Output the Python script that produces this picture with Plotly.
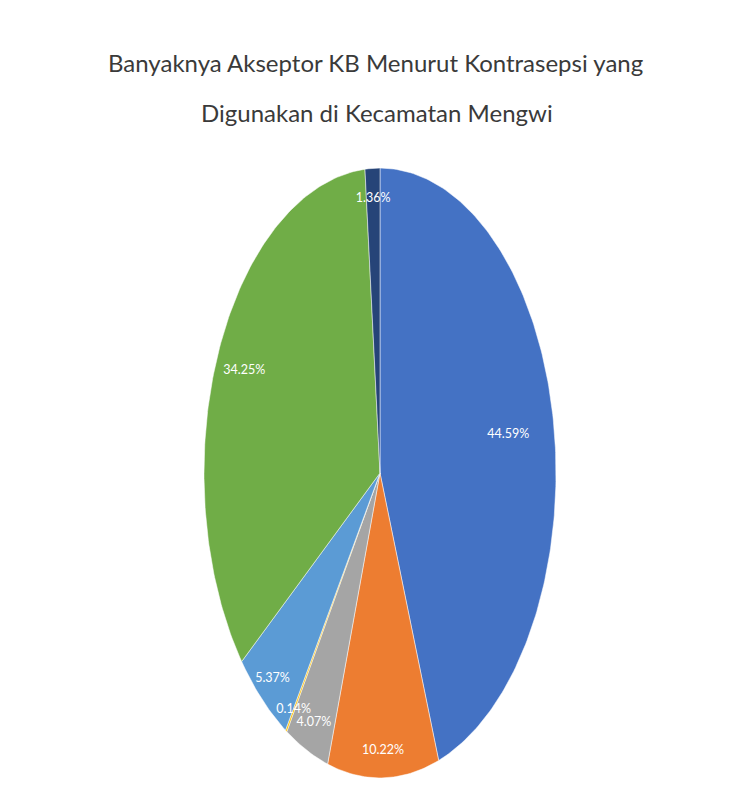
import numpy as np
import plotly.graph_objects as go

# ---- data ----
categories = ["Kontrasepsi 1", "Kontrasepsi 2", "Kontrasepsi 3", "Kontrasepsi 4",
              "Kontrasepsi 5", "Kontrasepsi 6", "Kontrasepsi 7"]
percentages = [44.59, 10.22, 4.07, 0.14, 5.37, 34.25, 1.36]
title_lines = ["Banyaknya Akseptor KB Menurut Kontrasepsi yang",
               "Digunakan di Kecamatan Mengwi"]

# ---- style ----
colors = ["#4472C4", "#ED7D31", "#A5A5A5", "#FFC000", "#5B9BD5", "#70AD47", "#264478"]
label_radius = [0.74, 0.91, 0.90, 0.92, 0.91, 0.84, 0.90]

vals = np.array(percentages, dtype=float)
frac = vals / vals.sum()
cum = np.concatenate([[0.0], np.cumsum(frac)])

fig = go.Figure()
for i, (name, c) in enumerate(zip(categories, colors)):
    n = max(3, int(frac[i] * 400))
    t = np.linspace(cum[i], cum[i + 1], n) * 2 * np.pi
    x = np.concatenate([[0.0], np.sin(t), [0.0]])
    y = np.concatenate([[0.0], np.cos(t), [0.0]])
    fig.add_trace(go.Scatter(
        x=x, y=y, mode="lines", fill="toself", fillcolor=c,
        line=dict(color="rgba(255,255,255,0.7)", width=0.7),
        name=name, hoverinfo="name", showlegend=False,
    ))

mid = (cum[:-1] + cum[1:]) / 2 * 2 * np.pi
r = np.array(label_radius)
fig.add_trace(go.Scatter(
    x=r * np.sin(mid), y=r * np.cos(mid), mode="text",
    text=[f"{v:.2f}%" for v in percentages],
    textfont=dict(family="Lato", size=12.5, color="white"),
    hoverinfo="skip", showlegend=False, cliponaxis=False,
))

fig.update_layout(
    width=750, height=800,
    margin=dict(l=0, r=0, t=0, b=0),
    paper_bgcolor="white", plot_bgcolor="rgba(0,0,0,0)",
    xaxis=dict(range=[-1.02, 1.02], domain=[0.2673, 0.746], visible=False, fixedrange=True),
    yaxis=dict(range=[-1.02, 1.02], domain=[0.02, 0.7975], visible=False, fixedrange=True),
    annotations=[
        dict(text=title_lines[0], x=0.5, y=1 - 62 / 800, xref="paper", yref="paper",
             showarrow=False, xanchor="center", yanchor="middle",
             font=dict(family="Lato", size=24, color="#3a3a3a")),
        dict(text=title_lines[1], x=0.503, y=1 - 112 / 800, xref="paper", yref="paper",
             showarrow=False, xanchor="center", yanchor="middle",
             font=dict(family="Lato", size=24, color="#3a3a3a")),
    ],
)

fig.write_html("out.html", config={"displayModeBar": False},
               post_script="document.body.style.margin='0px';")
